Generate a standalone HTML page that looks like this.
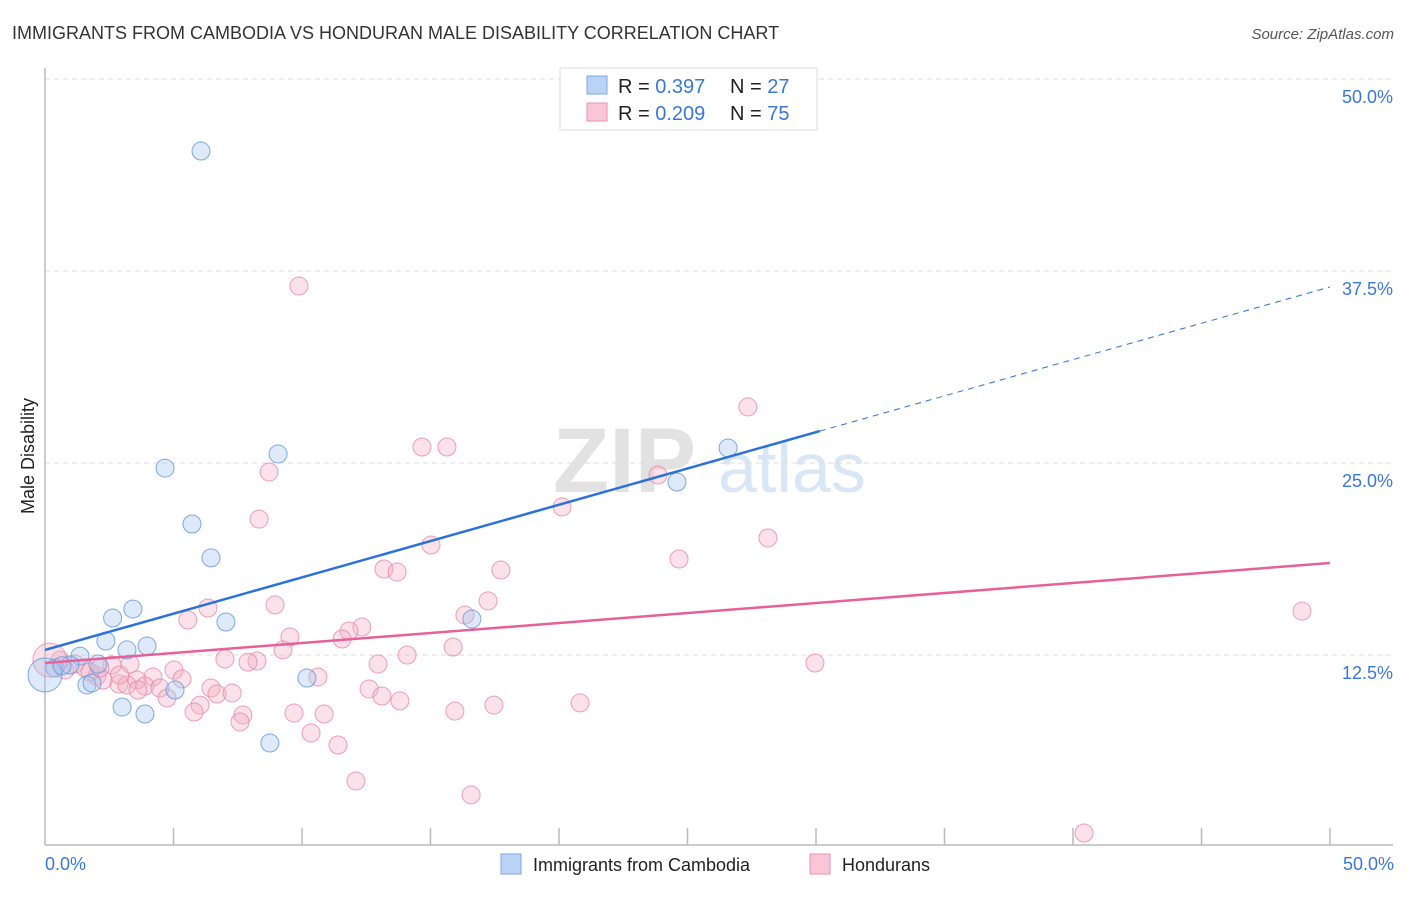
<!DOCTYPE html>
<html><head><meta charset="utf-8"><style>
body{margin:0;background:#fff;font-family:"Liberation Sans",sans-serif;}
svg text{font-family:"Liberation Sans",sans-serif;}
</style></head><body>
<svg id="chart" width="1406" height="892" xmlns="http://www.w3.org/2000/svg">
<text x="12" y="39" font-size="18" fill="#333">IMMIGRANTS FROM CAMBODIA VS HONDURAN MALE DISABILITY CORRELATION CHART</text>
<text x="1394" y="39" font-size="15" fill="#555" font-style="italic" text-anchor="end">Source: ZipAtlas.com</text>
<g>
<text x="553" y="492" font-size="92" fill="#e2e2e2" font-family="Liberation Serif" font-weight="bold">ZIP</text>
<text x="718" y="492" font-size="70" fill="#d8e6f6">atlas</text>
</g>
<g id="grid"></g>
<g id="axes"></g>
<g id="pts"></g>
<g id="lines"></g>
<g>
<rect x="560" y="68" width="257" height="62" fill="#fff" stroke="#ddd"/>
<rect x="587" y="76" width="20" height="18" fill="#b8d3f4" stroke="#7aa8e4"/>
<rect x="587" y="103" width="20" height="18" fill="#f8c6d6" stroke="#eb92b0"/>
<text x="618" y="93" font-size="20" fill="#222">R = <tspan fill="#3a78d8">0.397</tspan><tspan x="730">N = </tspan><tspan fill="#3a78d8">27</tspan></text>
<text x="618" y="120" font-size="20" fill="#222">R = <tspan fill="#3a78d8">0.209</tspan><tspan x="730">N = </tspan><tspan fill="#3a78d8">75</tspan></text>
</g>
<text transform="translate(34,456) rotate(-90)" font-size="18" fill="#222" text-anchor="middle">Male Disability</text>
<text x="45" y="870" font-size="18" fill="#3a78d8">0.0%</text>
<text x="1394" y="870" font-size="18" fill="#3a78d8" text-anchor="end">50.0%</text>
<g>
<rect x="501" y="854" width="20" height="20" fill="#b8d3f4" stroke="#7aa8e4"/>
<text x="533" y="871" font-size="18" fill="#222">Immigrants from Cambodia</text></g>
<g>
<rect x="810" y="854" width="20" height="20" fill="#f8c6d6" stroke="#eb92b0"/>
<text x="842" y="871" font-size="18" fill="#222">Hondurans</text></g>
</svg>
<script>
const yTicks=[12.5,25,37.5,50];
const yTickLabels=["12.5%","25.0%","37.5%","50.0%"];
const blueX=[6.07,4.67,9.07,5.72,6.46,3.42,2.63,7.04,2.37,3.97,3.19,1.36,2.06,0.39,0.97,1.63,1.83,5.06,10.19,3.00,3.89,8.75,16.61,24.59,26.58,0,0.66];
const blueY=[45.31,24.67,25.59,21.03,18.82,15.49,14.91,14.65,13.41,13.09,12.83,12.43,11.91,11.65,11.85,10.55,10.68,10.22,11.00,9.11,8.66,6.77,14.84,23.76,25.98,11.2,11.8];
const pinkX=[9.88,27.35,14.67,15.64,8.72,23.85,20.12,8.33,28.13,15.02,24.67,13.19,13.70,17.74,17.24,48.91,6.34,8.95,16.34,5.56,12.33,11.83,9.53,11.56,15.88,9.26,14.09,7.00,8.25,7.90,12.96,29.96,3.31,5.02,2.61,5.33,10.62,4.20,3.58,2.02,2.88,3.19,2.26,3.89,4.47,6.46,12.61,6.69,7.28,13.11,13.81,4.75,6.03,20.82,17.47,15.95,5.80,7.70,9.69,10.86,7.59,10.35,11.40,12.10,16.58,40.43,1.17,0.78,1.56,0.58,0.19,1.75,2.14,3.62,2.9];
const pinkY=[36.52,28.65,26.04,26.04,24.41,24.22,22.14,21.35,20.12,19.66,18.75,18.10,17.90,18.03,16.02,15.36,15.56,15.76,15.10,14.78,14.32,14.06,13.67,13.54,13.02,12.83,12.50,12.24,12.11,12.04,11.91,11.98,11.91,11.52,11.85,10.94,11.07,11.07,10.87,11.13,10.61,10.55,10.87,10.48,10.35,10.35,10.29,9.96,10.03,9.83,9.51,9.70,9.24,9.38,9.24,8.85,8.79,8.59,8.72,8.66,8.14,7.42,6.64,4.30,3.39,0.91,11.91,11.52,11.65,12.17,12.17,11.39,11.65,10.22,11.2];
const blueTrend=[12.83,36.46];
const pinkTrend=[11.98,18.49];
const NS="http://www.w3.org/2000/svg";
const sx=v=>45+v*25.7, sy=v=>847-v*15.36;
function mk(t,a,p){const e=document.createElementNS(NS,t);for(const k in a)e.setAttribute(k,a[k]);p.appendChild(e);return e;}
const grid=document.getElementById('grid'),axes=document.getElementById('axes'),pts=document.getElementById('pts'),lines=document.getElementById('lines');
yTicks.forEach((t,i)=>{
 const l=mk('line',{x1:45,x2:1393,y1:sy(t),y2:sy(t),stroke:'#ddd','stroke-dasharray':'5,4'},grid);
 
 
 const tx=mk('text',{x:1393,y:sy(t)+24,'font-size':18,fill:'#3a78d8','text-anchor':'end'},grid);
 tx.textContent=yTickLabels[i];
 
 
});
mk('line',{x1:45,x2:45,y1:68,y2:845,stroke:'#bbb','stroke-width':1.5},axes);
mk('line',{x1:45,x2:1393,y1:845,y2:845,stroke:'#bbb','stroke-width':1.5},axes);
for(let i=1;i<=10;i++){const t=mk('line',{x1:sx(i*5),x2:sx(i*5),y1:828,y2:845,stroke:'#bbb','stroke-width':1.5},axes);
 
 }
function dots(X,Y,fill,stroke,name){X.forEach((x,i)=>{
 const big=(x<0.3);
 const c=mk('circle',{cx:sx(x),cy:sy(Y[i]),r:big?17:9,fill:fill,'fill-opacity':0.38,stroke:stroke,'stroke-width':1,'stroke-opacity':0.8},pts);
 
 });}
dots(pinkX,pinkY,'#f4b0c6','#e68aa8','honduran-point');
dots(blueX,blueY,'#a9c8f0','#5f95dc','cambodia-point');
const bx=30.15;
const b1=mk('line',{x1:sx(0),y1:sy(blueTrend[0]),x2:sx(bx),y2:sy(blueTrend[0]+(blueTrend[1]-blueTrend[0])*bx/50),stroke:'#2a72d8','stroke-width':2.5},lines);


const b2=mk('line',{x1:sx(bx),y1:sy(blueTrend[0]+(blueTrend[1]-blueTrend[0])*bx/50),x2:sx(50),y2:sy(blueTrend[1]),stroke:'#2a72d8','stroke-width':1,'stroke-dasharray':'6,5'},lines);


const p1=mk('line',{x1:sx(0),y1:sy(pinkTrend[0]),x2:sx(50),y2:sy(pinkTrend[1]),stroke:'#e8609a','stroke-width':2.5},lines);


</script>
</body></html>
